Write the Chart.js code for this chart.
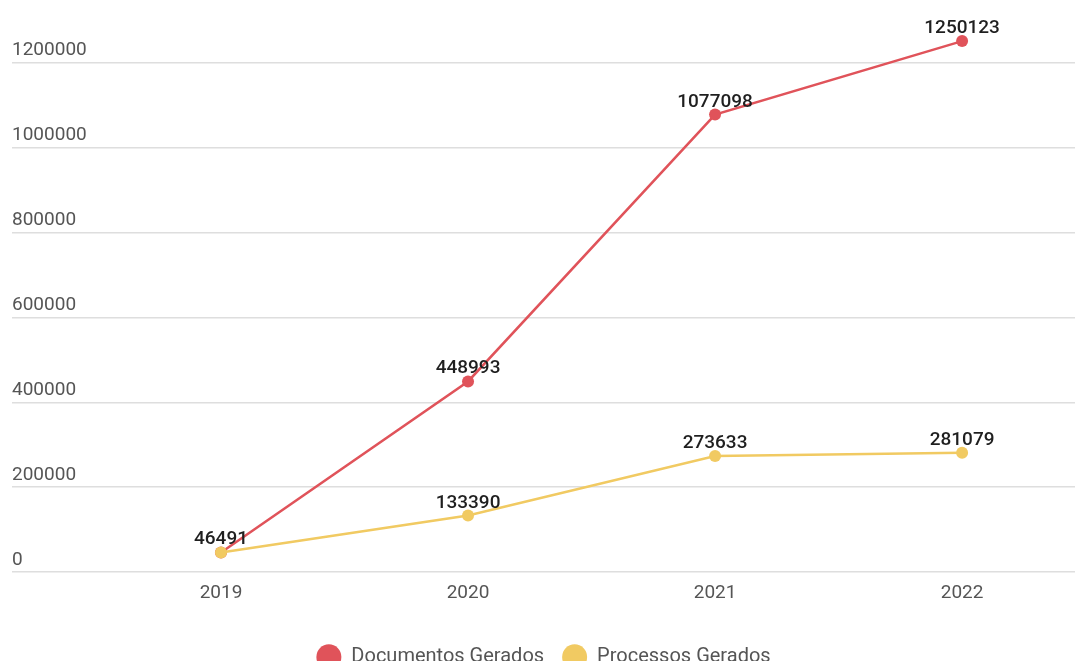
<!DOCTYPE html>
<html>
<head>
<meta charset="utf-8">
<script src="https://cdn.jsdelivr.net/npm/chart.js@4/dist/chart.umd.min.js"></script>
<style>
  html, body { margin: 0; padding: 0; background: #fff; overflow: hidden; }
  #wrap { position: relative; width: 1075px; height: 677px; }
</style>
</head>
<body>
<div id="wrap"><canvas id="chart"></canvas></div>
<script>
const years = [2019, 2020, 2021, 2022];
const documentos = [46491, 448993, 1077098, 1250123];
const processos = [46491, 133390, 273633, 281079];
const yTicks = [0, 200000, 400000, 600000, 800000, 1000000, 1200000];

const RED = '#E0535A';
const YELLOW = '#F1CA62';
const FONT = 'Roboto, "Noto Sans", sans-serif';

// etiquetas de valor encima de cada punto (la de 2019 roja coincide con la amarilla)
const valueLabels = {
  id: 'valueLabels',
  afterDatasetsDraw(chart) {
    const { ctx } = chart;
    ctx.save();
    ctx.font = `500 19px ${FONT}`;
    ctx.fillStyle = '#1f1f1f';
    ctx.textAlign = 'center';
    ctx.textBaseline = 'alphabetic';
    chart.data.datasets.forEach((ds, di) => {
      const meta = chart.getDatasetMeta(di);
      meta.data.forEach((pt, i) => {
        const v = ds.data[i].y;
        if (di === 1 && v === chart.data.datasets[0].data[i].y) return;
        ctx.fillText(String(v), pt.x, pt.y - 8);
      });
    });
    ctx.restore();
  },
};

new Chart(document.getElementById('chart'), {
  type: 'line',
  data: {
    datasets: [
      {
        label: 'Processos Gerados',
        data: years.map((y, i) => ({ x: y, y: processos[i] })),
        borderColor: YELLOW,
        backgroundColor: YELLOW,
        borderWidth: 2.5,
        pointRadius: 6,
        pointBorderWidth: 0,
        pointHoverRadius: 6,
      },
      {
        label: 'Documentos Gerados',
        data: years.map((y, i) => ({ x: y, y: documentos[i] })),
        borderColor: RED,
        backgroundColor: RED,
        borderWidth: 2.5,
        pointRadius: 6,
        pointBorderWidth: 0,
        pointHoverRadius: 6,
      },
    ],
  },
  options: {
    responsive: true,
    maintainAspectRatio: false,
    animation: false,
    layout: { autoPadding: false, padding: { top: 10, right: 0, bottom: 0, left: 12 } },
    plugins: {
      legend: {
        position: 'bottom',
        reverse: true,
        labels: {
          usePointStyle: true,
          pointStyle: 'circle',
          pointStyleWidth: 25,
          boxHeight: 18,
          padding: 18,
          color: '#555',
          font: { family: FONT, size: 20 },
        },
      },
      tooltip: { enabled: false },
    },
    scales: {
      x: {
        type: 'linear',
        min: 2018.154,
        max: 2022.457,
        grid: { display: false },
        border: { display: false },
        afterBuildTicks: axis => { axis.ticks = years.map(v => ({ value: v })); },
        afterFit: axis => { axis.height += 22; },
        ticks: {
          padding: 2,
          color: '#555',
          font: { family: FONT, size: 19 },
          callback: v => String(v),
        },
      },
      y: {
        min: 0,
        max: 1320000,
        border: { display: false },
        grid: { color: '#dedede', lineWidth: 1.5, drawTicks: false },
        afterBuildTicks: axis => { axis.ticks = yTicks.map(v => ({ value: v })); },
        ticks: {
          mirror: true,
          padding: 0,
          labelOffset: -12,
          color: '#555',
          font: { family: FONT, size: 19 },
          callback: v => String(v),
        },
      },
    },
  },
  plugins: [valueLabels],
});
</script>
</body>
</html>
